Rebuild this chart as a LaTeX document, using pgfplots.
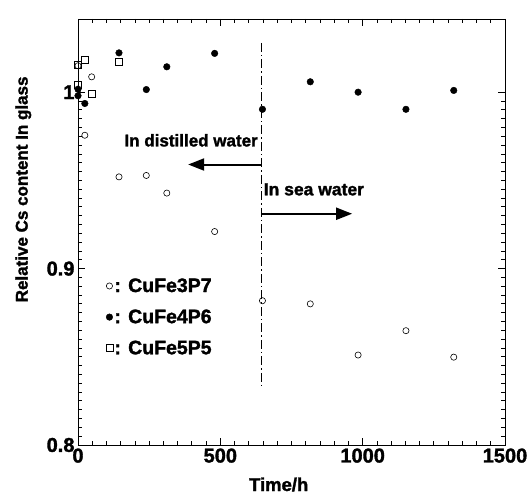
\documentclass[border=0pt]{standalone}
\usepackage{fontspec}
\setmainfont{Liberation Sans}[BoldFeatures={FakeBold=1.6}]
\usepackage{pgfplots}
\pgfplotsset{compat=1.18}
\usetikzlibrary{arrows.meta,calc}
\begin{document}
\begin{tikzpicture}
\begin{axis}[name=ax,
 width=427pt, height=426pt, scale only axis,
 xmin=0, xmax=1500, ymin=0.8, ymax=1.0415,
 xtick={0,500,1000,1500}, ytick={0.8,0.9,1},
 yticklabels={0.8,0.9,1},
 xticklabels={0,500,1000,1500},
 minor x tick num=9, minor y tick num=19,
 major tick length=7pt, minor tick length=4pt,
 tick align=inside,
 axis line style={line width=0.9pt},
 every tick/.style={black, line width=0.8pt},
 tick label style={font=\bfseries\fontsize{20}{20}\selectfont},
 /pgf/number format/assume math mode=true,
 /pgf/number format/1000 sep={},
 xlabel={Time/h}, ylabel={Relative Cs content In glass},
 xlabel style={font=\bfseries\fontsize{18.5}{18.5}\selectfont, at={(axis description cs:0.47,-0.108)}, anchor=base, inner sep=0pt},
 ylabel style={font=\bfseries\fontsize{17}{17}\selectfont, at={(axis description cs:-0.118,0.6)}, anchor=base, inner sep=0pt},
 legend style={draw=none, fill=none, at={(axis description cs:0.065,0.395)}, anchor=north west,
   font=\bfseries\fontsize{19.5}{19.5}\selectfont, row sep=13pt, inner sep=0pt, nodes={inner sep=1.5pt}},
 legend cell align=left,
 legend image code/.code={\draw[mark repeat=2,mark phase=2,#1] plot coordinates {(0pt,0pt) (6pt,0pt) (12pt,0pt)};},
]
% CuFe3P7 (open circles)
\addplot[only marks, mark=o, mark size=3.1pt, black, mark options={line width=0.6pt}] coordinates {
 (0,1.015) (24,0.9756) (48,1.0087) (144,0.952) (240,0.9528) (312,0.9428)
 (480,0.921) (648,0.8818) (816,0.880) (984,0.851) (1152,0.8648) (1320,0.8498)};
% CuFe4P6 (filled circles)
\addplot[only marks, mark=*, mark size=3.3pt, black] coordinates {
 (0,1.0017) (0,0.998) (24,0.9936) (144,1.0223) (240,1.0015) (312,1.0144)
 (480,1.022) (648,0.9903) (816,1.0059) (984,1.000) (1152,0.9903) (1320,1.001)};
% CuFe5P5 (open squares)
\addplot[only marks, mark=square, mark size=3.5pt, black, mark options={line width=0.6pt}] coordinates {
 (0,1.0153) (0,1.004) (24,1.0186) (48,0.9993) (144,1.0172)};
\legend{: CuFe3P7, : CuFe4P6, : CuFe5P5}
% vertical dash-dot line
\addplot[forget plot, black, line width=0.7pt, dash pattern=on 9pt off 3pt on 1.5pt off 3pt] coordinates {(645,1.028) (645,0.8335)};
% arrows
\addplot[forget plot, black, line width=2pt, -{Triangle[length=16pt,width=12pt]}] coordinates {(645,0.959) (387,0.959)};
\addplot[forget plot, black, line width=2pt, -{Triangle[length=16pt,width=12pt]}] coordinates {(645,0.9311) (963,0.9311)};
\node[anchor=east, font=\bfseries\fontsize{17}{17}\selectfont, inner sep=0pt] at (axis cs:632,0.9727) {In distilled water};
\node[anchor=west, font=\bfseries\fontsize{17.5}{17.5}\selectfont, inner sep=0pt] at (axis cs:652,0.9449) {In sea water};
\end{axis}
\path ($(ax.south west)+(-78pt,-49pt)$) rectangle ($(ax.north east)+(26pt,19pt)$);
\end{tikzpicture}
\end{document}
